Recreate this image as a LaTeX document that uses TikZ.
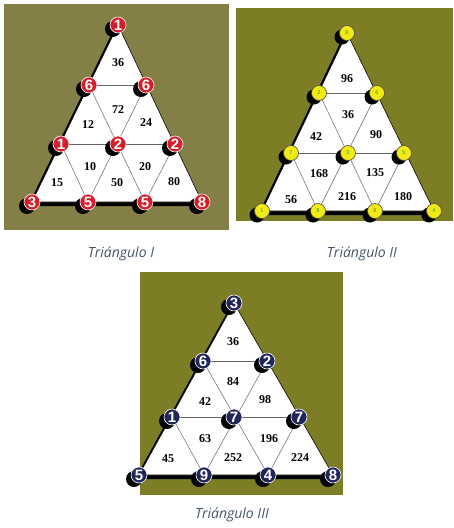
\documentclass[tikz,border=0pt]{standalone}
\usepackage{fontspec}
\setmainfont{Liberation Serif}
\newfontfamily\capfont{Open Sans}
\newfontfamily\dotfont{Liberation Sans}
\definecolor{oliveA}{RGB}{131,127,70}
\definecolor{oliveB}{RGB}{125,125,38}
\definecolor{dotred}{RGB}{214,30,42}
\definecolor{dotyellow}{RGB}{242,234,20}
\definecolor{dotnavy}{RGB}{32,38,92}
\definecolor{capgrey}{RGB}{68,84,106}
\definecolor{dotgreen}{RGB}{60,150,70}
\tikzset{
  board/.style={fill=white, draw=black, line width=0.6pt},
  grid/.style={draw=black!60, line width=0.5pt},
  cell/.style={inner sep=0pt, font=\bfseries\fontsize{12}{12}\selectfont},
  dot/.style={circle, inner sep=0pt, line width=0.6pt},
  reddot/.style={dot, fill=dotred, draw=white, minimum size=16pt, text=white,
                 font=\dotfont\bfseries\fontsize{15}{15}\selectfont},
  yellowdot/.style={dot, fill=dotyellow, draw=black!70, minimum size=15pt, text=dotgreen,
                 font=\dotfont\fontsize{5.5}{6}\selectfont},
  navydot/.style={dot, fill=dotnavy, draw=white, minimum size=16pt, text=white,
                 font=\dotfont\bfseries\fontsize{15}{15}\selectfont},
  caption/.style={text=capgrey, font=\capfont\itshape\fontsize{14}{16}\selectfont},
}
\newcommand{\dotshade}[2]{\fill[black] ([shift={(-5,4)}]#1) circle (#2);}
\begin{document}
\begin{tikzpicture}[x=1pt, y=-1pt]
    \useasboundingbox (0,0) rectangle (453,528);
    \fill[oliveA] (4,4) rectangle (229,230);
    \fill[oliveB] (236,8) rectangle (453,221);
    \fill[oliveB] (140,272) rectangle (343,495);
    % triangle I
    \coordinate (I00) at (118,25);
    \coordinate (I10) at (89,85);   \coordinate (I11) at (146,85);
    \coordinate (I20) at (61,144);  \coordinate (I21) at (118,144); \coordinate (I22) at (175,144);
    \coordinate (I30) at (32,202);  \coordinate (I31) at (88,202);  \coordinate (I32) at (145,202); \coordinate (I33) at (202,202);
    \fill[black] ([shift={(-4,4)}]I00) -- ([shift={(-4,4)}]I30) -- ([shift={(-4,4)}]I33) -- cycle;
    \filldraw[board] (I00) -- (I30) -- (I33) -- cycle;
    \draw[grid] (I10) -- (I11) (I20) -- (I22);
    \draw[grid] (I11) -- (I31) (I22) -- (I32);
    \draw[grid] (I10) -- (I32) (I20) -- (I31);
    \node[cell] (Ic36) at (118,63)  {36};
    \node[cell] (Ic72) at (118,110) {72};
    \node[cell] (Ic12) at (88,125)  {12};
    \node[cell] (Ic24) at (146,123) {24};
    \node[cell] (Ic10) at (90,167)  {10};
    \node[cell] (Ic20) at (145,167) {20};
    \node[cell] (Ic15) at (57,183)  {15};
    \node[cell] (Ic50) at (117,183) {50};
    \node[cell] (Ic80) at (174,182) {80};
    \dotshade{I00}{8} \node[reddot] (Id00) at (I00) {1};
    \dotshade{I10}{8} \node[reddot] (Id10) at (I10) {6};
    \dotshade{I11}{8} \node[reddot] (Id11) at (I11) {6};
    \dotshade{I20}{8} \node[reddot] (Id20) at (I20) {1};
    \dotshade{I21}{8} \node[reddot] (Id21) at (I21) {2};
    \dotshade{I22}{8} \node[reddot] (Id22) at (I22) {2};
    \dotshade{I30}{8} \node[reddot] (Id30) at (I30) {3};
    \dotshade{I31}{8} \node[reddot] (Id31) at (I31) {5};
    \dotshade{I32}{8} \node[reddot] (Id32) at (I32) {5};
    \dotshade{I33}{8} \node[reddot] (Id33) at (I33) {8};
    % triangle II
    \coordinate (J00) at (347,33);
    \coordinate (J10) at (319,93);  \coordinate (J11) at (377,93);
    \coordinate (J20) at (291,153); \coordinate (J21) at (348,153); \coordinate (J22) at (404,153);
    \coordinate (J30) at (262,211); \coordinate (J31) at (318,211); \coordinate (J32) at (375,211); \coordinate (J33) at (434,211);
    \fill[black] ([shift={(-4,4)}]J00) -- ([shift={(-4,4)}]J30) -- ([shift={(-4,4)}]J33) -- cycle;
    \filldraw[board] (J00) -- (J30) -- (J33) -- cycle;
    \draw[grid] (J10) -- (J11) (J20) -- (J22);
    \draw[grid] (J11) -- (J31) (J22) -- (J32);
    \draw[grid] (J10) -- (J32) (J20) -- (J31);
    \node[cell] (Jc96)  at (347,79)  {96};
    \node[cell] (Jc36)  at (348,115) {36};
    \node[cell] (Jc42)  at (316,137) {42};
    \node[cell] (Jc90)  at (376,135) {90};
    \node[cell] (Jc168) at (319,174) {168};
    \node[cell] (Jc135) at (375,173) {135};
    \node[cell] (Jc56)  at (291,200) {56};
    \node[cell] (Jc216) at (347,197) {216};
    \node[cell] (Jc180) at (403,197) {180};
    \dotshade{J00}{7.5} \node[yellowdot] (Jd00) at (J00) {8};
    \dotshade{J10}{7.5} \node[yellowdot] (Jd10) at (J10) {2};
    \dotshade{J11}{7.5} \node[yellowdot] (Jd11) at (J11) {6};
    \dotshade{J20}{7.5} \node[yellowdot] (Jd20) at (J20) {7};
    \dotshade{J21}{7.5} \node[yellowdot] (Jd21) at (J21) {3};
    \dotshade{J22}{7.5} \node[yellowdot] (Jd22) at (J22) {5};
    \dotshade{J30}{7.5} \node[yellowdot] (Jd30) at (J30) {1};
    \dotshade{J31}{7.5} \node[yellowdot] (Jd31) at (J31) {8};
    \dotshade{J32}{7.5} \node[yellowdot] (Jd32) at (J32) {9};
    \dotshade{J33}{7.5} \node[yellowdot] (Jd33) at (J33) {4};
    % triangle III
    \coordinate (K00) at (234,303);
    \coordinate (K10) at (203,361); \coordinate (K11) at (267,361);
    \coordinate (K20) at (172,417); \coordinate (K21) at (234,417); \coordinate (K22) at (299,417);
    \coordinate (K30) at (139,475); \coordinate (K31) at (204,475); \coordinate (K32) at (268,475); \coordinate (K33) at (333,475);
    \fill[black] ([shift={(-4,4)}]K00) -- ([shift={(-4,4)}]K30) -- ([shift={(-4,4)}]K33) -- cycle;
    \filldraw[board] (K00) -- (K30) -- (K33) -- cycle;
    \draw[grid] (K10) -- (K11) (K20) -- (K22);
    \draw[grid] (K11) -- (K31) (K22) -- (K32);
    \draw[grid] (K10) -- (K32) (K20) -- (K31);
    \node[cell] (Kc36)  at (233,342) {36};
    \node[cell] (Kc84)  at (233,382) {84};
    \node[cell] (Kc42)  at (205,402) {42};
    \node[cell] (Kc98)  at (265,400) {98};
    \node[cell] (Kc63)  at (205,439) {63};
    \node[cell] (Kc196) at (269,439) {196};
    \node[cell] (Kc45)  at (168,459) {45};
    \node[cell] (Kc252) at (233,458) {252};
    \node[cell] (Kc224) at (300,458) {224};
    \dotshade{K00}{8} \node[navydot] (Kd00) at (K00) {3};
    \dotshade{K10}{8} \node[navydot] (Kd10) at (K10) {6};
    \dotshade{K11}{8} \node[navydot] (Kd11) at (K11) {2};
    \dotshade{K20}{8} \node[navydot] (Kd20) at (K20) {1};
    \dotshade{K21}{8} \node[navydot] (Kd21) at (K21) {7};
    \dotshade{K22}{8} \node[navydot] (Kd22) at (K22) {7};
    \dotshade{K30}{8} \node[navydot] (Kd30) at (K30) {5};
    \dotshade{K31}{8} \node[navydot] (Kd31) at (K31) {9};
    \dotshade{K32}{8} \node[navydot] (Kd32) at (K32) {4};
    \dotshade{K33}{8} \node[navydot] (Kd33) at (K33) {8};
    % captions
    \node[caption] (capI)   at (121,254) {Triángulo I};
    \node[caption] (capII)  at (362,254) {Triángulo II};
    \node[caption] (capIII) at (232,515) {Triángulo III};
  \end{tikzpicture}
\end{document}
